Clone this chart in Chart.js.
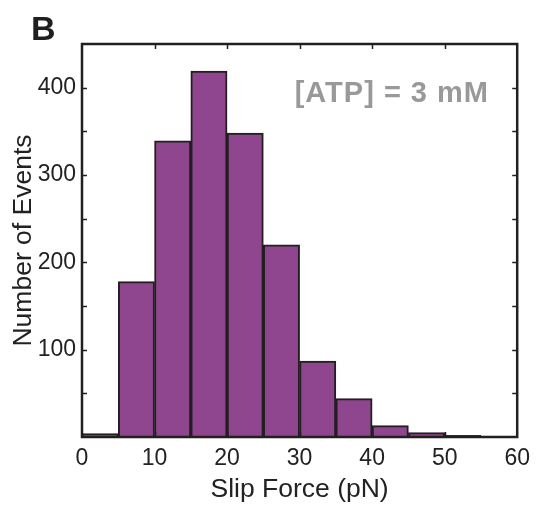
<!DOCTYPE html>
<html>
<head>
<meta charset="utf-8">
<script src="https://cdn.jsdelivr.net/npm/chart.js@4"></script>
<style>
  body { margin: 0; background: #fff; }
  #wrap { width: 538px; height: 512px; }
</style>
</head>
<body>
<div id="wrap"><canvas id="histChart" width="538" height="512"></canvas></div>
<script>
// Histogram data: slip force bins (pN, 5 pN wide) and counts
const binStarts = [0, 5, 10, 15, 20, 25, 30, 35, 40, 45, 50, 55];
const binWidth = 5;
const eventCounts = [4, 178, 339, 419, 348, 220, 87, 44, 13, 5, 2, 0];
const xTicks = [0, 10, 20, 30, 40, 50, 60];
const yTickLabels = [100, 200, 300, 400];

const axisColor = '#231F20';
const barColor = '#8F468E';
const fontFamily = '"Liberation Sans", Arial, sans-serif';

// Frame, inward ticks on all four sides, panel letter and annotation
const framePlugin = {
    id: 'frame',
    afterDraw(chart) {
        const ctx = chart.ctx;
        const area = chart.chartArea;
        const xs = chart.scales.x;
        const ys = chart.scales.y;
        const tickLen = 5;

        ctx.save();
        ctx.strokeStyle = axisColor;
        ctx.lineWidth = 1.5;
        ctx.beginPath();
        ys.ticks.forEach(t => {
            if (t.value <= 0 || t.value >= ys.max) return;
            const y = Math.round(ys.getPixelForValue(t.value)) + 0.5;
            ctx.moveTo(area.left, y);
            ctx.lineTo(area.left + tickLen, y);
            ctx.moveTo(area.right, y);
            ctx.lineTo(area.right - tickLen, y);
        });
        xs.ticks.forEach(t => {
            if (t.value <= xs.min || t.value >= xs.max) return;
            const x = Math.round(xs.getPixelForValue(t.value)) + 0.5;
            ctx.moveTo(x, area.top);
            ctx.lineTo(x, area.top + tickLen);
            ctx.moveTo(x, area.bottom);
            ctx.lineTo(x, area.bottom - tickLen);
        });
        ctx.stroke();

        ctx.lineWidth = 2.5;
        ctx.strokeRect(area.left, area.top, area.right - area.left, area.bottom - area.top);

        ctx.fillStyle = '#1F1F1F';
        ctx.font = 'bold 34px ' + fontFamily;
        ctx.textBaseline = 'alphabetic';
        ctx.textAlign = 'left';
        ctx.fillText('B', 31, 40);

        ctx.fillStyle = '#999999';
        ctx.font = 'bold 29px ' + fontFamily;
        ctx.letterSpacing = '1px';
        ctx.textAlign = 'right';
        ctx.fillText('[ATP] = 3 mM', 489, 102);
        ctx.restore();
    }
};

new Chart(document.getElementById('histChart'), {
    type: 'bar',
    data: {
        datasets: [{
            data: binStarts.map((s, i) => ({ x: s + binWidth / 2, y: eventCounts[i] })),
            backgroundColor: barColor,
            borderColor: axisColor,
            borderWidth: 2,
            barPercentage: 1,
            categoryPercentage: 1
        }]
    },
    options: {
        responsive: false,
        animation: false,
        layout: { padding: { top: 44, right: 20, left: 0, bottom: 0 } },
        plugins: {
            legend: { display: false },
            tooltip: { enabled: false }
        },
        scales: {
            x: {
                type: 'linear',
                min: 0,
                max: 60,
                offset: false,
                afterFit(scale) { scale.height = 75; },
                afterBuildTicks(scale) { scale.ticks = xTicks.map(v => ({ value: v })); },
                grid: { display: false, drawTicks: false },
                border: { display: false },
                ticks: {
                    color: '#222',
                    padding: 8,
                    maxRotation: 0,
                    font: { family: fontFamily, size: 23 }
                },
                title: {
                    display: true,
                    text: 'Slip Force (pN)',
                    color: '#222',
                    padding: { top: 6, bottom: 6 },
                    font: { family: fontFamily, size: 26.5 }
                }
            },
            y: {
                min: 0,
                max: 450,
                afterFit(scale) { scale.width = 82; },
                grid: { display: false, drawTicks: false },
                border: { display: false },
                ticks: {
                    stepSize: 50,
                    color: '#222',
                    padding: 6,
                    font: { family: fontFamily, size: 23 },
                    callback: v => yTickLabels.includes(v) ? String(v) : ''
                },
                title: {
                    display: true,
                    text: 'Number of Events',
                    color: '#222',
                    padding: { top: 8, bottom: 8 },
                    font: { family: fontFamily, size: 26.5 }
                }
            }
        }
    },
    plugins: [framePlugin]
});
</script>
</body>
</html>
